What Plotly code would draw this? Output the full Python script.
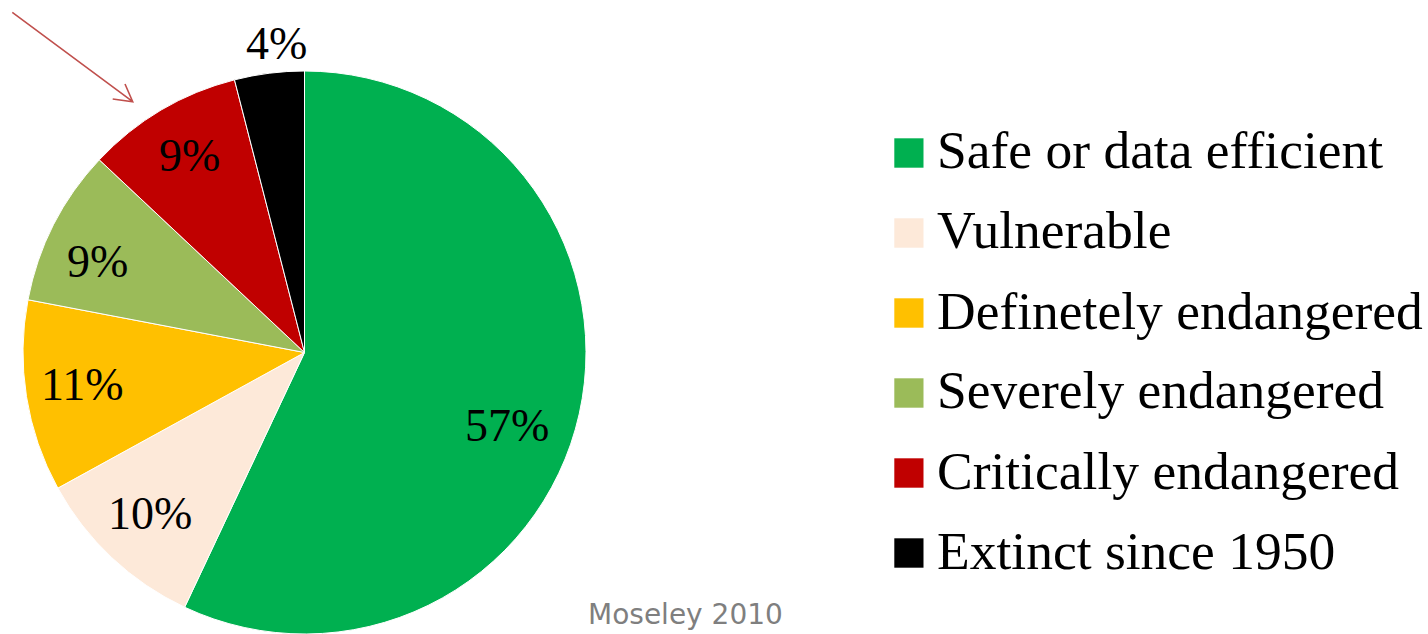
import math
import plotly.graph_objects as go

# ---- data ----
categories = ["Safe or data efficient", "Vulnerable", "Definetely endangered",
              "Severely endangered", "Critically endangered", "Extinct since 1950"]
values = [57, 10, 11, 9, 9, 4]
colors = ["#00B050", "#FDE9D9", "#FFC000", "#9BBB59", "#C00000", "#000000"]
source_note = "Moseley 2010"

# ---- layout / style ----
W, H = 1428, 634
cx_px, cy_px, R = 304.5, 353.0, 281.5
label_rfrac = [0.77, 0.80, 0.80, 0.80, 0.80, 1.09]
label_nudge = [8, 0, 0, -4, 0, 2]
SERIF = "Liberation Serif, Times New Roman, serif"


def px(x):
    return x / W


def py(y):
    return 1 - y / H


fig = go.Figure(go.Pie(
    labels=categories,
    values=values,
    sort=False,
    direction="clockwise",
    rotation=0,
    marker=dict(colors=colors, line=dict(color="white", width=1)),
    textinfo="none",
    hoverinfo="label+percent",
    showlegend=False,
    domain=dict(x=[px(cx_px - R), px(cx_px + R)], y=[0, (2 * R) / H]),
))

annotations = []
shapes = []

# percentage labels, placed at the slice mid-angles computed from the values
total = sum(values)
cum = 0
for i, v in enumerate(values):
    ang = math.radians((cum + v / 2) / total * 360 + label_nudge[i])
    r = label_rfrac[i] * R
    x = cx_px + r * math.sin(ang)
    y = cy_px - r * math.cos(ang) - 4
    pct = round(v / total * 100)
    annotations.append(dict(
        x=px(x), y=py(y), xref="paper", yref="paper",
        text=f"{pct}%", showarrow=False, xanchor="center", yanchor="middle",
        font=dict(family=SERIF, size=46, color="black"),
    ))
    cum += v

# custom legend
for i, (name, col) in enumerate(zip(categories, colors)):
    yc = 153 + 80 * i
    shapes.append(dict(
        type="rect", xref="paper", yref="paper",
        x0=px(894.3), x1=px(923.5), y0=py(yc + 14.7), y1=py(yc - 14.7),
        fillcolor=col, line=dict(width=0),
    ))
    annotations.append(dict(
        x=px(935), y=py(yc - 2.5), xref="paper", yref="paper",
        text=name, showarrow=False, xanchor="left", yanchor="middle",
        font=dict(family=SERIF, size=53.5, color="black"),
    ))

# source note
annotations.append(dict(
    x=px(685), y=py(614), xref="paper", yref="paper",
    text=source_note, showarrow=False, xanchor="center", yanchor="middle",
    font=dict(family="DejaVu Sans, sans-serif", size=28, color="#7F7F7F"),
))

# red pointer arrow
tip = (132.7, 101.7)
path = (f"M {px(12.3)},{py(12.3)} L {px(tip[0])},{py(tip[1])} "
        f"M {px(112.7)},{py(99)} L {px(tip[0])},{py(tip[1])} L {px(125)},{py(84)}")
shapes.append(dict(type="path", xref="paper", yref="paper", path=path,
                   line=dict(color="#C0504D", width=1.6)))

fig.update_layout(
    width=W, height=H,
    margin=dict(l=0, r=0, t=0, b=0),
    paper_bgcolor="white", plot_bgcolor="white",
    annotations=annotations,
    shapes=shapes,
    showlegend=False,
)

fig.write_html("out.html", config={"displayModeBar": False},
               post_script="document.body.style.margin='0';")
